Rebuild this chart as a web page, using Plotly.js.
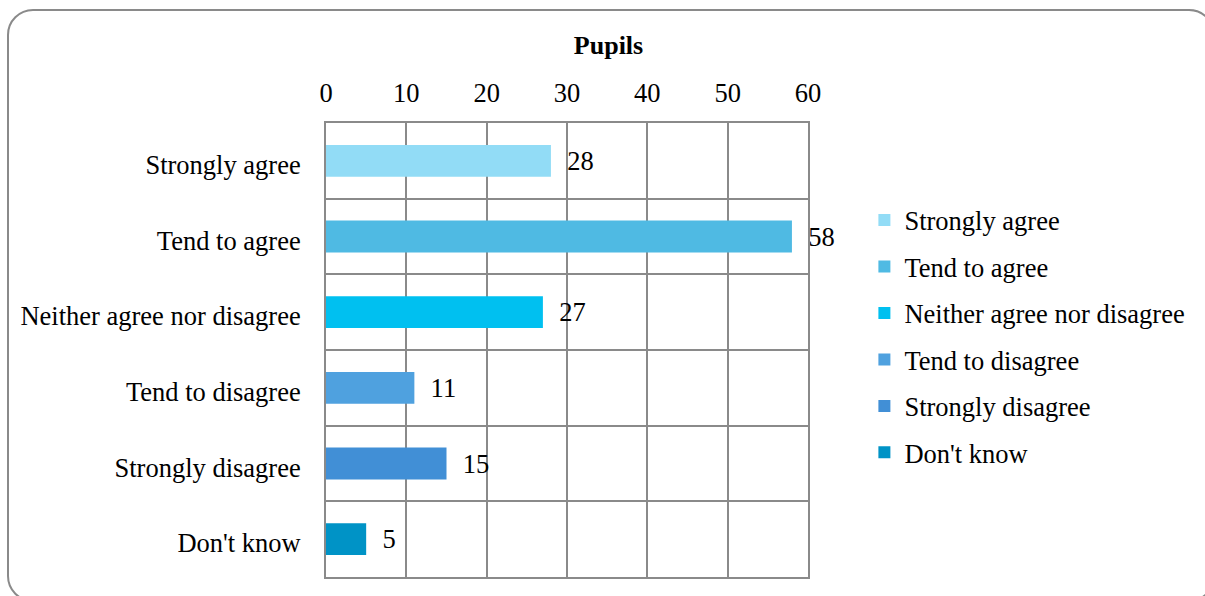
<!DOCTYPE html>
<html>
<head>
<meta charset="utf-8">
<script src="https://cdn.plot.ly/plotly-3.0.1.min.js"></script>
<style>
  html, body { margin: 0; padding: 0; background: #fff; }
  #wrap { position: relative; width: 1205px; height: 596px; overflow: hidden; }
  #frame { position: absolute; left: 7px; top: 9px; width: 1208px; height: 593px;
           border: 2px solid #8a8a8a; border-radius: 26px; box-sizing: border-box; }
  #chart { position: absolute; left: 0; top: 0; width: 1205px; height: 596px; }
</style>
</head>
<body>
<div id="wrap">
  <div id="frame"></div>
  <div id="chart"></div>
</div>
<script>
const categories = ["Strongly agree", "Tend to agree", "Neither agree nor disagree",
                    "Tend to disagree", "Strongly disagree", "Don't know"];
const values = [28, 58, 27, 11, 15, 5];
const colors = ["#92DCF6", "#4FBAE3", "#00C0F0", "#4FA1DF", "#418FD6", "#0093C6"];
const xTicks = [0, 10, 20, 30, 40, 50, 60];
const chartTitle = "Pupils";

const FONT = "Liberation Serif, Times New Roman, serif";
const FS = 26.5;
const gridColor = "#8a8a8a";

const traces = categories.map((c, i) => ({
  type: "bar",
  orientation: "h",
  name: c,
  legendgroup: "g" + i,
  x: [values[i]],
  y: [i],
  width: 0.42,
  marker: { color: colors[i] },
  text: [values[i]],
  texttemplate: "\u00a0\u00a0%{x}",
  textposition: "outside",
  textfont: { family: FONT, size: FS, color: "#000" },
  cliponaxis: false,
  hoverinfo: "x+name"
}));

// invisible trace on yaxis2 to get grid lines at category boundaries
traces.push({
  type: "scatter", x: [0], y: [0], yaxis: "y2", mode: "markers",
  marker: { opacity: 0 }, showlegend: false, hoverinfo: "skip"
});

const boundaries = [];
for (let k = 0; k <= categories.length; k++) boundaries.push(k - 0.5);

const layout = {
  width: 1205, height: 596,
  paper_bgcolor: "rgba(0,0,0,0)",
  plot_bgcolor: "rgba(0,0,0,0)",
  margin: { l: 326, r: 397, t: 123, b: 19, pad: 0 },
  barmode: "overlay",
  font: { family: FONT, size: FS, color: "#000" },
  title: {
    text: "<b>" + chartTitle + "</b>",
    font: { family: FONT, size: 26, color: "#000" },
    xref: "container", x: 0.505, xanchor: "center",
    yref: "container", y: 0.925, yanchor: "middle"
  },
  xaxis: {
    side: "top",
    range: [0, 60],
    tickvals: xTicks,
    ticktext: xTicks.map(String),
    ticks: "", ticklen: 0,
    ticklabelstandoff: 8,
    tickfont: { family: FONT, size: FS, color: "#000" },
    showgrid: true, gridcolor: gridColor, gridwidth: 2,
    showline: true, linecolor: gridColor, linewidth: 2, mirror: true,
    zeroline: false, fixedrange: true
  },
  yaxis: {
    range: [categories.length - 0.5, -0.5],
    tickvals: categories.map((c, i) => i),
    ticktext: categories,
    ticks: "", ticklen: 0,
    ticklabelstandoff: 18,
    ticklabelshift: -4,
    tickfont: { family: FONT, size: FS, color: "#000" },
    showgrid: false,
    showline: true, linecolor: gridColor, linewidth: 2, mirror: true,
    zeroline: false, fixedrange: true
  },
  yaxis2: {
    overlaying: "y",
    range: [categories.length - 0.5, -0.5],
    tickvals: boundaries,
    showticklabels: false,
    ticks: "",
    showgrid: true, gridcolor: gridColor, gridwidth: 2,
    zeroline: false, fixedrange: true
  },
  showlegend: true,
  legend: {
    x: 1.117, xref: "paper", xanchor: "left",
    y: 0.53, yanchor: "middle",
    traceorder: "grouped",
    tracegroupgap: 9,
    font: { family: FONT, size: FS, color: "#000" },
    itemwidth: 30,
    bgcolor: "rgba(0,0,0,0)"
  }
};

Plotly.newPlot("chart", traces, layout, { displayModeBar: false, staticPlot: true });
</script>
</body>
</html>
